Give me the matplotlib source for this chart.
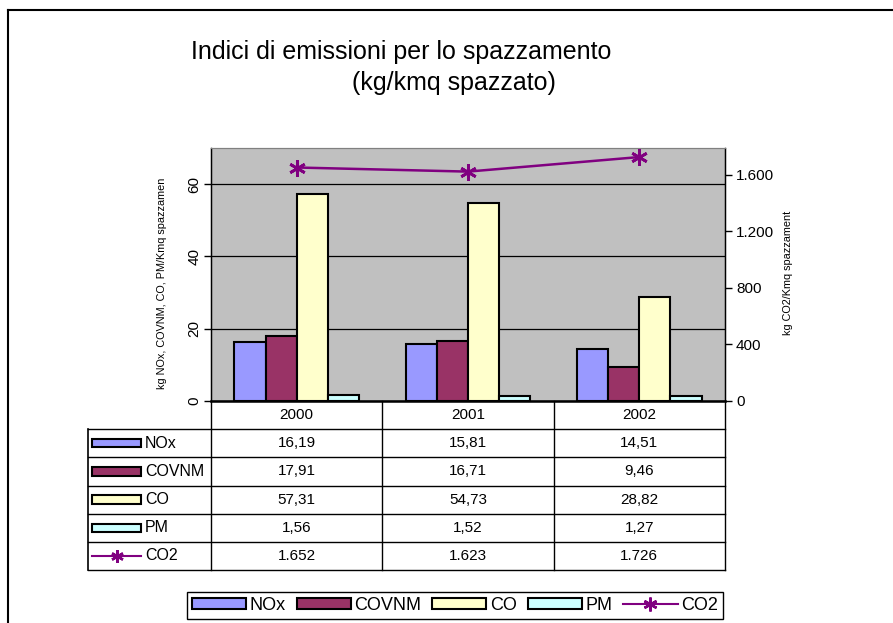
import matplotlib
matplotlib.use('Agg')
import matplotlib.pyplot as plt
from matplotlib.patches import Patch, Rectangle
from matplotlib.lines import Line2D
import numpy as np

plt.rcParams['font.family'] = ['Liberation Sans', 'DejaVu Sans']

# data
years = ['2000', '2001', '2002']
nox = [16.19, 15.81, 14.51]
covnm = [17.91, 16.71, 9.46]
co = [57.31, 54.73, 28.82]
pm = [1.56, 1.52, 1.27]
co2 = [1652, 1623, 1726]
series_names = ['NOx', 'COVNM', 'CO', 'PM']
series_colors = ['#9999FF', '#993366', '#FFFFCC', '#CCFFFF']
co2_color = '#800080'

W, H = 893, 623
fig = plt.figure(figsize=(W / 100, H / 100), dpi=100)

def fx(px):
    return px / W

def fy(py):
    return 1 - py / H

# outer chart border (runs off right/bottom)
fig.add_artist(Line2D([fx(8), 1.0], [fy(10), fy(10)], transform=fig.transFigure, color='black', lw=1.5))
fig.add_artist(Line2D([fx(8), fx(8)], [fy(10), 0.0], transform=fig.transFigure, color='black', lw=1.5))

# titles
fig.text(fx(401), fy(59), 'Indici di emissioni per lo spazzamento', ha='center', va='baseline', fontsize=18)
fig.text(fx(454), fy(90), '(kg/kmq spazzato)', ha='center', va='baseline', fontsize=18)

# plot area
left, right, top, bottom = 211, 725, 148, 401
ax = fig.add_axes([fx(left), fy(bottom), fx(right - left), (bottom - top) / H])
ax.set_facecolor('#C0C0C0')

x = np.arange(len(years))
w = 1 / 5.5
all_series = [nox, covnm, co, pm]
for k, (vals, col) in enumerate(zip(all_series, series_colors)):
    ax.bar(x + (k - 1.5) * w, vals, width=w, color=col, edgecolor='black', linewidth=1.5, zorder=3)

ax.set_xlim(-0.5, 2.5)
ax.set_ylim(0, 70)
ax.set_yticks([0, 20, 40, 60])
ax.set_yticklabels(['0', '20', '40', '60'], rotation=90, va='center', fontsize=11)
ax.yaxis.grid(True, color='black', lw=0.9)
ax.set_axisbelow(True)
ax.set_xticks([])
ax.tick_params(axis='y', direction='out', length=5, width=1, pad=2)
ax.spines['top'].set_color('#808080')
ax.spines['bottom'].set_linewidth(1.8)
ax.spines['left'].set_linewidth(1)

ax2 = ax.twinx()
ax2.plot(x, co2, color=co2_color, lw=1.8, marker=(6, 2, 0), markersize=12, mew=2, zorder=5)
ax2.set_ylim(0, 1790)
ax2.set_yticks([0, 400, 800, 1200, 1600])
ax2.set_yticklabels(['0', '400', '800', '1.200', '1.600'], fontsize=11)
ax2.tick_params(axis='y', direction='out', length=5, width=1, pad=3)
ax2.spines['top'].set_color('#808080')
ax2.spines['right'].set_linewidth(1)

# axis titles
fig.text(fx(162), fy(283), 'kg NOx, COVNM, CO, PM/Kmq spazzamen', rotation=90, ha='center', va='center', fontsize=7.8)
fig.text(fx(788), fy(273), 'kg CO2/Kmq spazzament', rotation=90, ha='center', va='center', fontsize=7.8)

# data table under the chart
tl, tr, tt, tb = 88, 725, 401, 570
tax = fig.add_axes([fx(tl), fy(tb), fx(tr - tl), (tb - tt) / H])
tax.axis('off')
xmin = -0.5 - (left - tl) / ((right - left) / 3)
tax.set_xlim(xmin, 2.5)
tax.set_ylim(6, 0)
for xv in [-0.5, 0.5, 1.5, 2.5]:
    tax.plot([xv, xv], [0, 6], color='black', lw=1, clip_on=False)
tax.plot([xmin, xmin], [1, 6], color='black', lw=1.2, clip_on=False)
for r in range(1, 7):
    tax.plot([xmin, 2.5], [r, r], color='black', lw=1, clip_on=False)

for i, yr in enumerate(years):
    tax.text(i, 0.5, yr, ha='center', va='center', fontsize=11)

px_unit = (right - left) / 3
key_x0 = xmin + 4 / px_unit
key_x1 = xmin + 53 / px_unit
for k, (name, vals, col) in enumerate(zip(series_names, all_series, series_colors)):
    row = k + 1
    tax.add_patch(Rectangle((key_x0, row + 0.5 - 0.15), key_x1 - key_x0, 0.3, facecolor=col,
                            edgecolor='black', lw=1.5, clip_on=False))
    tax.text(xmin + 57 / px_unit, row + 0.5, name, ha='left', va='center', fontsize=11.5)
    for i, v in enumerate(vals):
        tax.text(i, row + 0.5, f'{v:.2f}'.replace('.', ','), ha='center', va='center', fontsize=11)

row = 5
tax.plot([key_x0, key_x1], [row + 0.5, row + 0.5], color=co2_color, lw=1.5, clip_on=False)
tax.plot([(key_x0 + key_x1) / 2], [row + 0.5], color=co2_color, marker=(6, 2, 0), markersize=9, mew=1.8, clip_on=False)
tax.text(xmin + 57 / px_unit, row + 0.5, 'CO2', ha='left', va='center', fontsize=11.5)
for i, v in enumerate(co2):
    tax.text(i, row + 0.5, f'{v:,}'.replace(',', '.'), ha='center', va='center', fontsize=11)

# bottom legend
handles = [Patch(facecolor=c, edgecolor='black', lw=1.5) for c in series_colors]
handles.append(Line2D([], [], color=co2_color, lw=1.5, marker=(6, 2, 0), markersize=10, mew=1.8))
leg = fig.legend(handles, series_names + ['CO2'], ncol=5, loc='center',
                 bbox_to_anchor=(fx(455), fy(605.5)), fontsize=13, frameon=True,
                 fancybox=False, edgecolor='black', framealpha=1, borderpad=0.25,
                 handlelength=3.0, handleheight=0.55, handletextpad=0.2, columnspacing=0.6,
                 borderaxespad=0)
leg.get_frame().set_linewidth(1)

fig.savefig('out.png', dpi=100)
